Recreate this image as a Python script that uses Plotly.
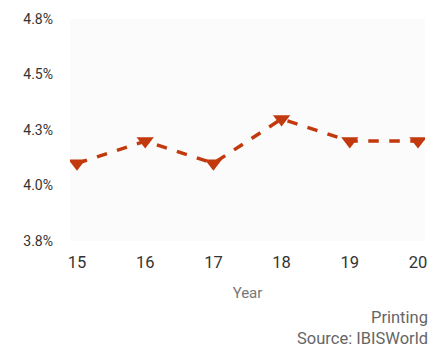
import plotly.graph_objects as go

# Printing industry profit margin by year
years = [15, 16, 17, 18, 19, 20]
margin = [4.1, 4.2, 4.1, 4.3, 4.2, 4.2]

y_ticks = [3.75, 4.0, 4.25, 4.5, 4.75]
y_tick_labels = ["3.8%", "4.0%", "4.3%", "4.5%", "4.8%"]
x_tick_labels = ["15", "16", "17", "18", "19", "20"]

line_color = "#c2390d"

fig = go.Figure()
fig.add_trace(go.Scatter(
    x=years, y=margin,
    mode="lines+markers",
    line=dict(color=line_color, width=3.5, dash="dash"),
    marker=dict(symbol="triangle-down", size=15, color=line_color),
    showlegend=False,
))

fig.update_layout(
    width=442, height=347,
    margin=dict(l=70, r=17, t=19, b=106),
    paper_bgcolor="white",
    plot_bgcolor="#fbfbfb",
    font=dict(family="Roboto", color="#333333"),
    xaxis=dict(
        range=[14.897, 20.103],
        tickvals=years, ticktext=x_tick_labels,
        showgrid=False, zeroline=False, showline=False,
        tickfont=dict(size=16.5, color="#333333"),
        ticklabelstandoff=9,
        title=dict(text="Year", font=dict(size=15, color="#777777"), standoff=16),
    ),
    yaxis=dict(
        range=[3.75, 4.75],
        tickvals=y_ticks, ticktext=y_tick_labels,
        showgrid=False, zeroline=False, showline=False,
        tickfont=dict(size=14, color="#333333"),
        ticklabelstandoff=16,
    ),
    annotations=[
        dict(text="Printing", xref="paper", yref="paper", x=1.015, y=-0.345,
             xanchor="right", yanchor="middle", showarrow=False,
             font=dict(size=16.5, color="#666666")),
        dict(text="Source: IBISWorld", xref="paper", yref="paper", x=1.015, y=-0.44,
             xanchor="right", yanchor="middle", showarrow=False,
             font=dict(size=16.5, color="#666666")),
    ],
)

fig.write_html("out.html")
